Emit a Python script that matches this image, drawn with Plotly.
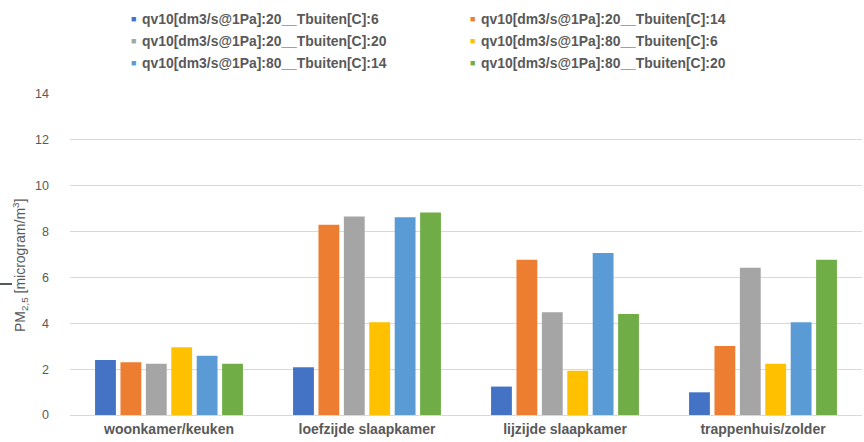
import plotly.graph_objects as go

# Rooms on the x axis
categories = ["woonkamer/keuken", "loefzijde slaapkamer", "lijzijde slaapkamer", "trappenhuis/zolder"]

# Series names (air tightness qv10 and outdoor temperature)
series_names = [
    "qv10[dm3/s@1Pa]:20__Tbuiten[C]:6",
    "qv10[dm3/s@1Pa]:20__Tbuiten[C]:14",
    "qv10[dm3/s@1Pa]:20__Tbuiten[C]:20",
    "qv10[dm3/s@1Pa]:80__Tbuiten[C]:6",
    "qv10[dm3/s@1Pa]:80__Tbuiten[C]:14",
    "qv10[dm3/s@1Pa]:80__Tbuiten[C]:20",
]

# PM2.5 concentration per room, one list per series
qv20_t6 = [2.40, 2.08, 1.24, 0.99]
qv20_t14 = [2.30, 8.30, 6.77, 3.01]
qv20_t20 = [2.23, 8.66, 4.48, 6.42]
qv80_t6 = [2.96, 4.05, 1.93, 2.23]
qv80_t14 = [2.58, 8.63, 7.06, 4.05]
qv80_t20 = [2.23, 8.83, 4.41, 6.77]

y_ticks = [0, 2, 4, 6, 8, 10, 12, 14]

series_values = [qv20_t6, qv20_t14, qv20_t20, qv80_t6, qv80_t14, qv80_t20]
colors = ["#4472C4", "#ED7D31", "#A5A5A5", "#FFC000", "#5B9BD5", "#70AD47"]

W, H = 864, 442
L, R, T, B = 70, 2, 94, 27

fig = go.Figure()
for name, vals, col in zip(series_names, series_values, colors):
    fig.add_trace(go.Bar(x=categories, y=vals, name=name, marker_color=col,
                         marker_line_width=0, showlegend=False))

font_main = "Liberation Sans, Arial, sans-serif"
text_col = "#595959"

# Legend drawn as two columns of colored squares with labels
annotations = []
leg_x_text = [140, 479]
leg_y = [19, 41, 63]
pw, ph = W - L - R, H - T - B
for i, (name, col) in enumerate(zip(series_names, colors)):
    row, colm = divmod(i, 2)
    xt = leg_x_text[colm]
    yc = leg_y[row]
    py = (H - B - yc) / ph
    annotations.append(dict(
        x=(xt - 7 - L) / pw, y=py, xref="paper", yref="paper",
        text="■", showarrow=False, xanchor="center", yanchor="middle",
        font=dict(size=9, color=col, family=font_main)))
    annotations.append(dict(
        x=(xt - L) / pw, y=py, xref="paper", yref="paper",
        text=f"<b>{name}</b>", showarrow=False, xanchor="left", yanchor="middle",
        font=dict(size=13.9, color=text_col, family=font_main)))

# Y-axis title
annotations.append(dict(
    x=(20 - L) / pw, y=(H - B - 266) / ph, xref="paper", yref="paper",
    text="PM<sub>2,5</sub> [microgram/m<sup>3</sup>]", textangle=-90,
    showarrow=False, xanchor="center", yanchor="middle",
    font=dict(size=14, color=text_col, family=font_main)))

fig.update_layout(
    width=W, height=H,
    margin=dict(l=L, r=R, t=T, b=B, pad=0),
    paper_bgcolor="white", plot_bgcolor="white",
    barmode="group", bargap=0.23, bargroupgap=0.18,
    annotations=annotations,
    shapes=[dict(type="line", xref="paper", yref="paper", layer="above",
                 x0=(0 - L) / pw, x1=(12 - L) / pw,
                 y0=(H - B - 284) / ph, y1=(H - B - 284) / ph,
                 line=dict(color="#222222", width=1.5))],
    xaxis=dict(showgrid=False, showline=False, zeroline=False, ticks="",
               tickfont=dict(size=14, color=text_col, family=font_main),
               ticklabelstandoff=4),
    yaxis=dict(range=[0, 14], tickvals=y_ticks, showgrid=True,
               gridcolor="#D9D9D9", gridwidth=1, zeroline=True,
               zerolinecolor="#D9D9D9", zerolinewidth=1, showline=False,
               ticks="", tickfont=dict(size=12.5, color=text_col, family=font_main),
               ticklabelstandoff=20),
    showlegend=False,
)

fig.update_xaxes(tickprefix="<b>", ticksuffix="</b>")
fig.update_yaxes(tickprefix="<b>", ticksuffix="</b>")

fig.write_html("out.html")
